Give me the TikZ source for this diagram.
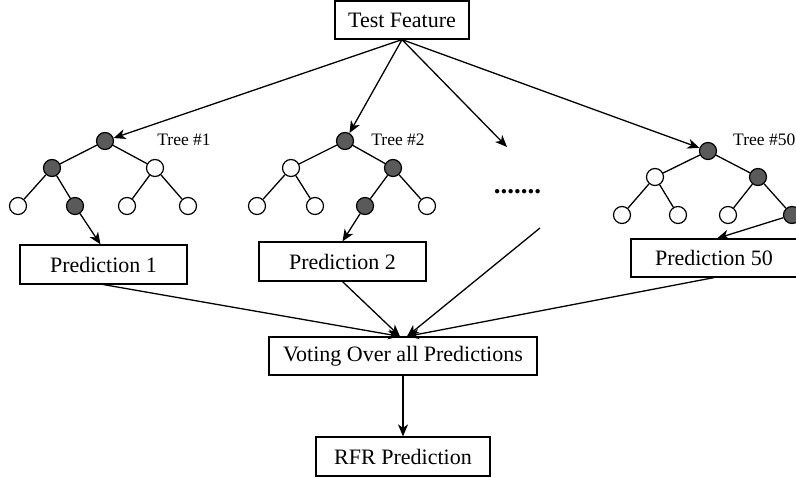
\documentclass[tikz,border=0pt]{standalone}
\usepackage{fontspec}
\setmainfont{Liberation Serif}
\usetikzlibrary{arrows.meta}
\definecolor{darknode}{HTML}{5A5A5A}
\begin{document}
\begin{tikzpicture}[x=1pt,y=-1pt,
 box/.style={draw,line width=1.2pt,inner sep=0pt,font=\fontsize{22}{26}\selectfont},
 dk/.style={circle,draw,line width=1.2pt,fill=darknode,minimum size=17pt,inner sep=0pt},
 wt/.style={circle,draw,line width=1.2pt,fill=white,minimum size=17pt,inner sep=0pt},
 edge/.style={line width=1.3pt},
 arr/.style={line width=1.3pt,-{Stealth[length=12pt,width=10pt,inset=3.5pt]}},
 lbl/.style={font=\fontsize{17.5}{20}\selectfont,inner sep=0pt}]
\clip (0,0) rectangle (796,478);
% boxes
\node[box,minimum width=134pt,minimum height=38pt] (tf) at (402,20) {Test Feature};
\node[box,minimum width=167pt,minimum height=39pt] (p1) at (103.5,264.5) {Prediction 1};
\node[box,minimum width=167pt,minimum height=39pt] (p2) at (342.5,261.5) {Prediction 2};
\node[box,minimum width=166pt,minimum height=38pt] (p50) at (714,258) {Prediction 50};
\node[box,minimum width=268pt,minimum height=38pt] (vote) at (403,356) {Voting Over all Predictions};
\node[box,minimum width=174pt,minimum height=39pt] (rfr) at (403,456.5) {RFR Prediction};
% tree 1
\node[dk] (a0) at (105,141) {};
\node[dk] (a1) at (52,168) {};
\node[wt] (a2) at (155,168) {};
\node[wt] (a3) at (18,206) {};
\node[dk] (a4) at (75,206) {};
\node[wt] (a5) at (127,206) {};
\node[wt] (a6) at (188,206) {};
\node[lbl] (la) at (184,140) {Tree \#1};
% tree 2
\node[dk] (b0) at (345,141) {};
\node[wt] (b1) at (291,168) {};
\node[dk] (b2) at (393,168) {};
\node[wt] (b3) at (257,206) {};
\node[wt] (b4) at (315,206) {};
\node[dk] (b5) at (365,206) {};
\node[wt] (b6) at (427,206) {};
\node[lbl] (lb) at (398,140) {Tree \#2};
% tree 50
\node[dk] (c0) at (708,151) {};
\node[wt] (c1) at (655,177) {};
\node[dk] (c2) at (758,177) {};
\node[wt] (c3) at (622,215) {};
\node[wt] (c4) at (678,215) {};
\node[wt] (c5) at (728,215) {};
\node[dk] (c6) at (792,215) {};
\node[lbl,anchor=west] (lc) at (733,140) {Tree \#50};
% dots
\node[font=\bfseries\fontsize{27}{30}\selectfont,inner sep=0pt,anchor=base] (dots) at (517.5,193.5) {.......};
\coordinate (da) at (507,147);
\coordinate (dl) at (540,228);
% tree edges
\foreach \t in {a,b,c}{
  \draw[edge] (\t0) -- (\t1);
  \draw[edge] (\t0) -- (\t2);
  \draw[edge] (\t1) -- (\t3);
  \draw[edge] (\t1) -- (\t4);
  \draw[edge] (\t2) -- (\t5);
  \draw[edge] (\t2) -- (\t6);
}
% arrows from test feature
\draw[arr] (tf.south) -- (a0);
\draw[arr] (tf.south) -- (b0);
\draw[arr] (tf.south) -- (da);
\draw[arr] (tf.south) -- (c0);
% leaf to prediction
\draw[arr] (a4) -- ([xshift=-3pt]p1.north);
\draw[arr] (b5) -- (p2.north);
\draw[arr] (c6) -- ([xshift=3pt]p50.north);
% predictions to voting
\draw[arr] (p1.south) -- ([xshift=-3pt]vote.north);
\draw[arr] (p2.south) -- ([xshift=-3pt]vote.north);
\draw[arr] (dl) -- ([xshift=4pt]vote.north);
\draw[arr] (p50.south) -- ([xshift=4pt]vote.north);
\draw[arr] (vote.south) -- (rfr.north);
\end{tikzpicture}
\end{document}
